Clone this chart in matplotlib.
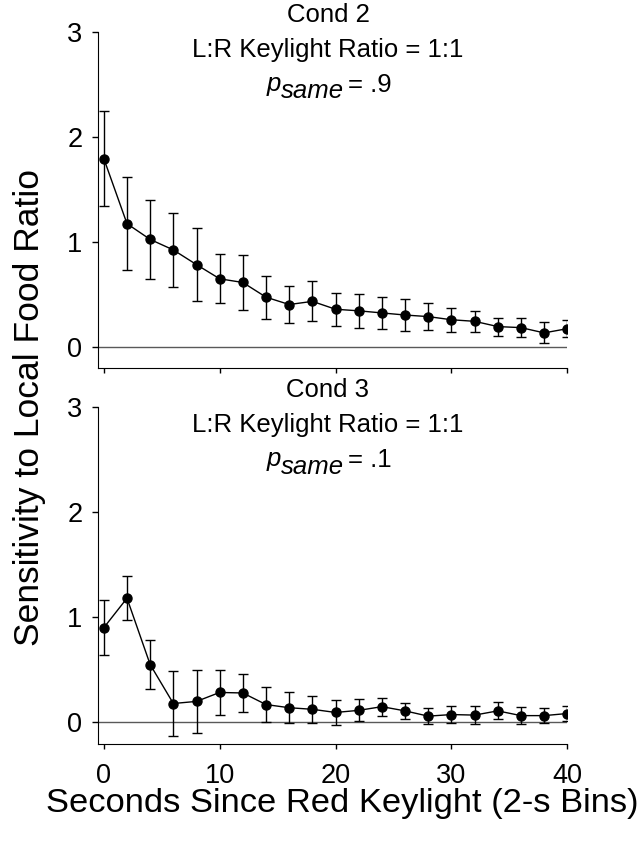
import matplotlib
matplotlib.use("Agg")
import matplotlib.pyplot as plt

# sensitivity to local food ratio across 2-s bins after the red keylight
seconds = [0, 2, 4, 6, 8, 10, 12, 14, 16, 18, 20, 22, 24, 26, 28, 30, 32, 34, 36, 38, 40]

cond2_mean = [1.79, 1.17, 1.02, 0.92, 0.78, 0.645, 0.61, 0.47, 0.40, 0.43, 0.355,
              0.34, 0.32, 0.30, 0.285, 0.255, 0.24, 0.19, 0.18, 0.13, 0.17]
cond2_err = [0.455, 0.44, 0.38, 0.355, 0.345, 0.235, 0.26, 0.205, 0.175, 0.19, 0.155,
             0.16, 0.15, 0.15, 0.125, 0.115, 0.10, 0.085, 0.09, 0.10, 0.08]

cond3_mean = [0.90, 1.18, 0.55, 0.18, 0.20, 0.285, 0.28, 0.17, 0.14, 0.125, 0.095,
              0.115, 0.15, 0.11, 0.06, 0.075, 0.07, 0.11, 0.065, 0.065, 0.085]
cond3_err = [0.26, 0.21, 0.235, 0.31, 0.30, 0.215, 0.18, 0.165, 0.145, 0.13, 0.12,
             0.105, 0.085, 0.075, 0.075, 0.08, 0.085, 0.08, 0.08, 0.073, 0.07]

cond_names = ["Cond 2", "Cond 3"]
ratio_label = "L:R Keylight Ratio = 1:1"
p_same = [".9", ".1"]

plt.rcParams["font.family"] = ["Liberation Sans", "DejaVu Sans"]

W, H = 639, 848
fig = plt.figure(figsize=(W / 100, H / 100), dpi=100)
ax_top = fig.add_axes([0.1534, 0.5666, 0.7344, 0.3962])
ax_bot = fig.add_axes([0.1534, 0.1232, 0.7344, 0.3974])
renderer = fig.canvas.get_renderer()
title_size = 18.5


def text_px(x, y, s, **kw):
    # place text using pixel coordinates measured from the top-left corner
    return fig.text(x / W, 1 - y / H, s, va="baseline", fontsize=title_size, **kw)


def draw_p_same(center_x, base_y, value):
    # italic p with an italic "same" set lower beside it, then the value
    parts = [("p", 0, "italic", 0), ("same", 7.5, "italic", 0), ("= " + value, 1.5, "normal", 4)]
    texts = []
    for s, dy, style, gap in parts:
        t = text_px(0, base_y + dy, s, style=style, ha="left")
        texts.append((t, gap))
    widths = [t.get_window_extent(renderer).width for t, _ in texts]
    total = sum(widths) + sum(g for _, g in texts)
    x = center_x - total / 2
    for (t, gap), w in zip(texts, widths):
        x += gap
        t.set_x(x / W)
        x += w


panels = [(ax_top, cond2_mean, cond2_err), (ax_bot, cond3_mean, cond3_err)]

for i, (ax, mean, err) in enumerate(panels):
    ax.axhline(0, color="0.35", lw=1.0, zorder=1)
    ax.errorbar(seconds, mean, yerr=err, fmt="-o", color="black", lw=1.0,
                markersize=6.5, elinewidth=1.0, capsize=3.6, capthick=1.0, zorder=3)
    ax.set_xlim(-0.5, 40)
    ax.set_ylim(-0.2, 3)
    ax.set_xticks([0, 10, 20, 30, 40])
    ax.set_yticks([0, 1, 2, 3])
    ax.spines["top"].set_visible(False)
    ax.spines["right"].set_visible(False)
    ax.tick_params(axis="y", direction="out", length=4.3, width=1.0, pad=7, labelsize=19.5)
    ax.tick_params(axis="x", direction="out", length=3.8, width=1.0, pad=10, labelsize=19.5)
    if i == 0:
        ax.tick_params(axis="x", labelbottom=False)

    # three-line panel heading inside the plot area
    off = 0 if i == 0 else 375
    text_px(328, 22 + off, cond_names[i], ha="center")
    text_px(328, 57 + off, ratio_label, ha="center")
    draw_p_same(329, 91 + off, p_same[i])

fig.text(0.046, 0.52, "Sensitivity to Local Food Ratio", rotation=90,
         ha="center", va="center", fontsize=25.5)
fig.text(0.536, 0.0519, "Seconds Since Red Keylight (2-s Bins)",
         ha="center", va="center", fontsize=24.8)

fig.savefig("out.png", dpi=100)
